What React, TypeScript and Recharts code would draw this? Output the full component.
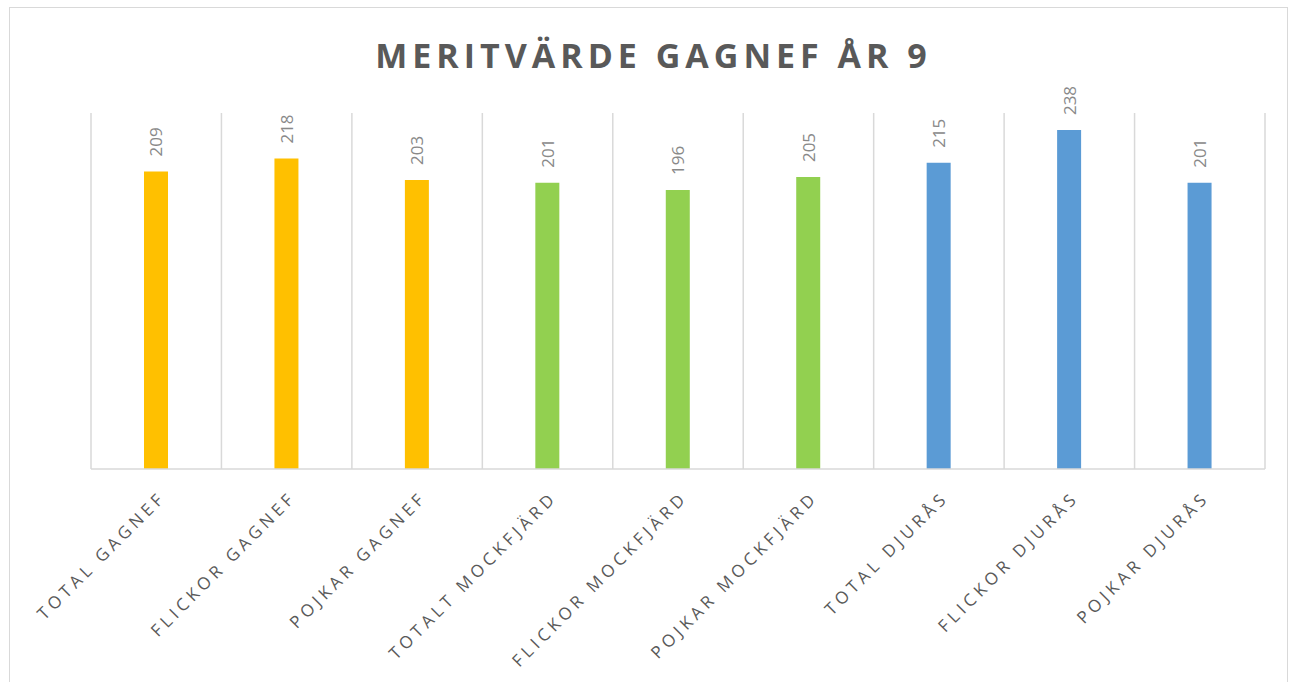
import React from 'react';
import { BarChart, Bar, XAxis, YAxis, CartesianGrid, Cell, LabelList } from 'recharts';

const categories = [
  'TOTAL GAGNEF',
  'FLICKOR GAGNEF',
  'POJKAR GAGNEF',
  'TOTALT MOCKFJÄRD',
  'FLICKOR MOCKFJÄRD',
  'POJKAR MOCKFJÄRD',
  'TOTAL DJURÅS',
  'FLICKOR DJURÅS',
  'POJKAR DJURÅS',
];
const values = [209, 218, 203, 201, 196, 205, 215, 238, 201];
const groupColors = ['#FFC000', '#92D050', '#5B9BD5'];

const data = categories.map((name, i) => ({ name, value: values[i] }));

const FONT = '"Open Sans", "DejaVu Sans", sans-serif';

const AxisTick = ({ x, y, payload }: any) => (
  <g transform={`translate(${x + 6},${y + 17}) rotate(-45)`}>
    <text
      x={0}
      y={0}
      textAnchor="end"
      dominantBaseline="central"
      fill="#595959"
      fontSize={17}
      letterSpacing={4.2}
      fontFamily={FONT}
    >
      {payload.value}
    </text>
  </g>
);

const ValueLabel = ({ x, y, width, value }: any) => {
  const cx = x + width / 2;
  const ty = y - 15;
  return (
    <text
      x={cx}
      y={ty}
      transform={`rotate(-90, ${cx}, ${ty})`}
      textAnchor="start"
      dominantBaseline="central"
      fill="#898989"
      fontSize={17}
      fontFamily={FONT}
    >
      {value}
    </text>
  );
};

const gridLines = ({ offset }: any) => {
  const n = categories.length;
  return Array.from({ length: n + 1 }, (_, i) => offset.left + (i * offset.width) / n);
};

export default function App() {
  return (
    <div style={{ position: 'absolute', left: 0, top: 0, width: 1295, height: 682, background: '#fff' }}>
      <div
        style={{
          position: 'absolute',
          left: 9,
          top: 7,
          width: 1279,
          height: 678,
          border: '1px solid #d9d9d9',
          boxSizing: 'border-box',
        }}
      />
      <div
        style={{
          position: 'absolute',
          left: 0,
          width: 1307,
          top: 32,
          textAlign: 'center',
          fontFamily: FONT,
          fontWeight: 700,
          fontSize: 34,
          letterSpacing: 5,
          color: '#595959',
        }}
      >
        MERITVÄRDE GAGNEF ÅR 9
      </div>
      <div style={{ position: 'absolute', left: 0, top: 0 }}>
        <BarChart
          width={1295}
          height={682}
          data={data}
          margin={{ top: 113, left: 91, right: 30, bottom: 33 }}
        >
          <CartesianGrid
            horizontal={false}
            vertical
            stroke="#d9d9d9"
            strokeWidth={1.5}
            verticalCoordinatesGenerator={gridLines}
          />
          <XAxis
            dataKey="name"
            interval={0}
            height={180}
            tickLine={false}
            axisLine={{ stroke: '#d9d9d9', strokeWidth: 1.5 }}
            tick={<AxisTick />}
          />
          <YAxis hide domain={[0, 250]} />
          <Bar dataKey="value" barSize={24} isAnimationActive={false}>
            {data.map((_, i) => (
              <Cell key={i} fill={groupColors[Math.floor(i / 3)]} />
            ))}
            <LabelList dataKey="value" content={<ValueLabel />} />
          </Bar>
        </BarChart>
      </div>
    </div>
  );
}
